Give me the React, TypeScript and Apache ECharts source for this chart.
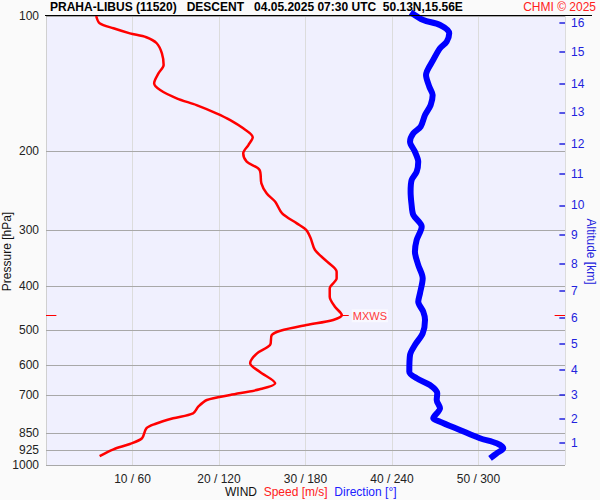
import React, { useEffect, useRef } from 'react';
import * as echarts from 'echarts';

// Pressure axis labels / grid levels [hPa]
const pressureTicks = [100, 200, 300, 400, 500, 600, 700, 850, 925, 1000];
// Wind speed tick values [m/s] (direction = speed * 6)
const speedTicks = [10, 20, 30, 40, 50];

// Altitude ticks on the right axis: km and the pressure level of each
const altKm = [1, 2, 3, 4, 5, 6, 7, 8, 9, 10, 11, 12, 13, 14, 15, 16];
const altPressure = [893, 790, 697, 614, 538, 471, 409, 356, 307, 264, 225, 193, 164, 141.5, 120.3, 103.5];

// Wind speed profile
const speedPressure = [100, 103.8, 106.5, 109.3, 111.5, 115.0, 121.1, 128.6, 134.2, 141.2,
  146.2, 152.5, 157.9, 164.7, 170.5, 177.9, 186.3, 193.8, 202.2, 211.1,
  220.3, 235.9, 248.3, 259.2, 275.1, 289.6, 299.7, 312.7, 332.0, 352.6,
  371.2, 384.0, 404.2, 422.0, 444.1, 463.5, 475.5, 487.9, 502.3, 513.6,
  540.5, 564.0, 593.6, 619.8, 657.7, 678.3, 698.4, 716.5, 741.5, 767.2,
  787.0, 810.4, 828.5, 871.9, 897.8, 922.6, 955.0];
const speedValues = [5.8, 6.2, 7.8, 9.7, 11.6, 12.8, 13.4, 13.6, 13.0, 12.5,
  13.2, 15.1, 17.4, 19.7, 21.3, 22.8, 23.9, 23.4, 22.8, 23.2,
  24.7, 24.9, 25.5, 26.5, 27.3, 29.0, 30.1, 30.6, 31.1, 32.5,
  33.6, 33.6, 32.8, 32.8, 33.4, 34.2, 33.2, 30.1, 27.1, 26.1,
  25.9, 24.4, 23.6, 24.7, 26.5, 24.7, 21.3, 18.6, 17.6, 17.0,
  14.7, 12.6, 11.6, 11.1, 9.7, 7.8, 6.2];

// Wind direction profile
const dirPressure = [98.1, 102.1, 104.7, 109.3, 114.1, 118.0, 125.3, 135.4, 143.7, 150.0,
  157.9, 166.2, 176.4, 182.5, 190.5, 200.6, 211.1, 222.2, 231.9, 246.3,
  263.6, 277.5, 294.6, 315.5, 334.8, 358.5, 384.0, 414.6, 432.9, 455.7,
  475.5, 509.1, 540.5, 568.9, 619.7, 641.1, 663.5, 692.2, 716.5, 747.6,
  787.0, 800.9, 835.6, 871.9, 894.7, 917.9, 941.9, 966.3];
const dirValues = [252.9, 261.7, 273.3, 279.7, 277.9, 273.3, 268.6, 263.6, 265.9, 268.2,
  266.8, 262.9, 259.9, 254.8, 252.5, 255.9, 258.2, 257.1, 253.6, 252.9,
  253.6, 254.8, 260.6, 257.1, 255.9, 258.2, 261.3, 259.4, 258.2, 261.7,
  262.9, 261.3, 255.9, 252.5, 252.0, 257.1, 266.3, 271.4, 271.0, 273.3,
  268.6, 273.3, 287.1, 301.0, 312.6, 317.2, 312.6, 308.0];

// Maximum wind level
const mxwsPressure = 465;
const mxwsSpeed = 34.2;

const FONT = '"Liberation Sans", Arial, sans-serif';
const BLUE_TXT = '#2222dd';

export default function App() {
  const ref = useRef<HTMLDivElement>(null);
  useEffect(() => {
    const chart = echarts.init(ref.current!, null, { renderer: 'svg' });
    const kmLabel = (v: number) => {
      let best = 0;
      let bd = Infinity;
      altPressure.forEach((p, i) => {
        const d = Math.abs(Math.log(p) - Math.log(v));
        if (d < bd) { bd = d; best = i; }
      });
      return String(altKm[best]);
    };
    chart.setOption({
      animation: false,
      backgroundColor: '#fafafa',
      textStyle: { fontFamily: FONT },
      title: [
        {
          text: 'PRAHA-LIBUS (11520)   DESCENT   04.05.2025 07:30 UTC  50.13N,15.56E',
          left: 50, top: 1, padding: 0,
          textStyle: { fontSize: 12, fontWeight: 'bold', color: '#000', fontFamily: FONT },
        },
        {
          text: 'CHMI © 2025',
          right: 4, top: 1, padding: 0,
          textStyle: { fontSize: 12, fontWeight: 'normal', color: '#ff2020', fontFamily: FONT },
        },
      ],
      grid: {
        left: 46, right: 35, top: 16, bottom: 35,
        show: true, backgroundColor: '#f0f0fe', borderWidth: 0,
        outerBoundsMode: 'none',
      },
      xAxis: [
        {
          type: 'value', min: 0, max: 60, interval: 10,
          axisLine: { show: false }, axisTick: { show: false },
          axisLabel: {
            customValues: speedTicks,
            formatter: (v: number) => `${v} / ${v * 6}`,
            color: '#222', fontSize: 12, margin: 8, fontFamily: FONT,
          },
          splitLine: { show: true, lineStyle: { color: '#dcdcdc', width: 1 } },
        },
        { type: 'value', min: 0, max: 360, show: false },
      ],
      yAxis: [
        {
          type: 'log', logBase: 10, min: 100, max: 1000, inverse: true,
          name: 'Pressure [hPa]', nameLocation: 'middle', nameGap: 33, nameMoveOverlap: false,
          nameTextStyle: { color: '#111', fontSize: 12, fontFamily: FONT, padding: [0, 22, 0, 0] },
          axisLine: { show: true, lineStyle: { color: '#000', width: 1 } },
          axisTick: { show: false },
          minorTick: { show: false },
          axisLabel: {
            customValues: pressureTicks, formatter: (v: number) => String(Math.round(v)),
            color: '#222', fontSize: 12, margin: 7, fontFamily: FONT,
          },
          splitLine: { show: false },
        },
        {
          type: 'log', logBase: 10, min: 100, max: 1000, inverse: true, position: 'right',
          name: 'Altitude [km]', nameLocation: 'middle', nameGap: 20, nameRotate: -90, nameMoveOverlap: false,
          nameTextStyle: { color: BLUE_TXT, fontSize: 12, fontFamily: FONT, padding: [0, 0, 0, 22] },
          axisLine: { show: true, lineStyle: { color: '#d0d0d0', width: 1 } },
          axisTick: { show: false },
          minorTick: { show: false },
          axisLabel: { customValues: altPressure, formatter: kmLabel, color: BLUE_TXT, fontSize: 12, margin: 6, fontFamily: FONT },
          splitLine: { show: false },
        },
      ],
      series: [
        {
          name: 'grid',
          type: 'line', xAxisIndex: 0, yAxisIndex: 0,
          data: [],
          showSymbol: false,
          z: 1,
          markLine: {
            silent: true, animation: false, symbol: ['none', 'none'], z: 1,
            label: { show: false },
            lineStyle: { color: '#a8a8a8', width: 1, type: 'solid' },
            data: [
              ...pressureTicks.map((p) => ({ yAxis: p })),
              ...altPressure.map((p) => [
                { coord: [59.35, p], lineStyle: { color: BLUE_TXT, width: 1.5, type: 'solid' } },
                { coord: [60, p] },
              ]),
            ],
          },
        },
        {
          name: 'Direction',
          type: 'line', xAxisIndex: 1, yAxisIndex: 0,
          data: dirValues.map((d, i) => [d, dirPressure[i]]),
          showSymbol: false, smooth: 0.3, clip: false,
          lineStyle: { color: '#0000ff', width: 6 },
          itemStyle: { color: '#0000ff' },
          z: 3,
        },
        {
          name: 'Speed',
          type: 'line', xAxisIndex: 0, yAxisIndex: 0,
          data: speedValues.map((s, i) => [s, speedPressure[i]]),
          showSymbol: false, smooth: 0.3,
          lineStyle: { color: '#ff0000', width: 2.5 },
          itemStyle: { color: '#ff0000' },
          z: 4,
          markLine: {
            silent: true, animation: false, symbol: ['none', 'none'],
            lineStyle: { color: '#ff0000', width: 1, type: 'solid' },
            label: { show: false },
            data: [
              [
                {
                  coord: [mxwsSpeed + 0.05, mxwsPressure],
                  label: {
                    show: true, position: 'end', formatter: 'MXWS', distance: 3,
                    color: '#ff3a3a', fontSize: 11, fontFamily: FONT,
                    backgroundColor: '#f8f8ff', padding: [1, 1],
                  },
                },
                { coord: [mxwsSpeed + 0.8, mxwsPressure] },
              ],
              [{ coord: [0, mxwsPressure] }, { coord: [1.2, mxwsPressure] }],
              [{ coord: [58.8, mxwsPressure] }, { coord: [60, mxwsPressure] }],
            ],
          },
        },
      ],
      graphic: [
        {
          type: 'line',
          shape: { x1: 45, y1: 15.5, x2: 592, y2: 15.5 },
          style: { stroke: '#000', lineWidth: 1 },
          z: 10,
        },
        {
          type: 'text', left: 225, top: 486,
          style: {
            text: '{a|WIND}  {b|Speed [m/s]}  {c|Direction [°]}',
            font: `12px ${FONT}`,
            rich: {
              a: { fill: '#111', fontSize: 12, fontFamily: FONT },
              b: { fill: '#ff2020', fontSize: 12, fontFamily: FONT },
              c: { fill: '#2020ff', fontSize: 12, fontFamily: FONT },
            },
          },
        },
      ],
    });
    return () => chart.dispose();
  }, []);
  return <div ref={ref} style={{ position: 'fixed', left: 0, top: 0, width: 600, height: 500 }} />;
}
